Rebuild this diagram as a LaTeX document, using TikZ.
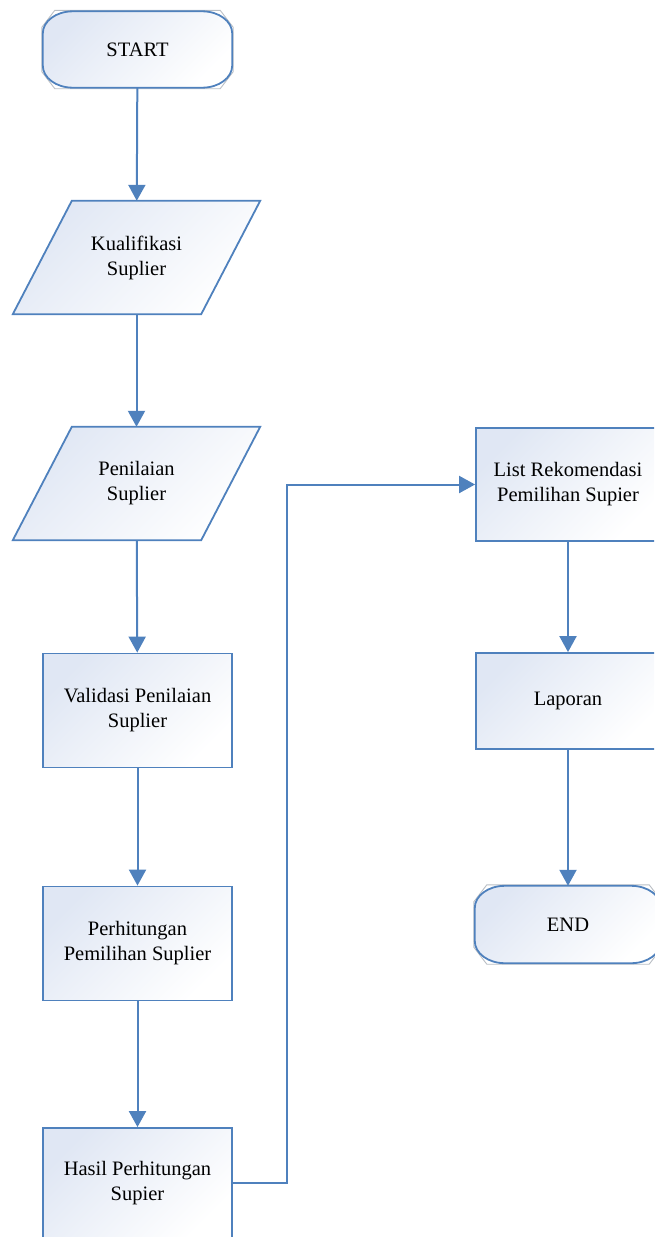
\documentclass[tikz,border=0pt]{standalone}
\usepackage{fontspec}
\setmainfont{Liberation Serif}
\usetikzlibrary{arrows.meta,calc,backgrounds}
\definecolor{lineblue}{RGB}{79,129,189}
\definecolor{fillblue}{RGB}{224,231,244}
\definecolor{edgegray}{RGB}{185,190,196}

\newcommand\myterm[1]{%
  \draw[edgegray, line width=0.9pt]
    ($(#1.north west)+(12,-1)$) -- ($(#1.north east)+(-12,-1)$) --
    ($(#1.north east)+(1,16)$) -- ($(#1.south east)+(1,-16)$) --
    ($(#1.south east)+(-12,1)$) -- ($(#1.south west)+(12,1)$) --
    ($(#1.south west)+(-1,-16)$) -- ($(#1.north west)+(-1,16)$) -- cycle;
  \path[shapefill]
    ($(#1.north west)+(30,0)$) -- ($(#1.north east)+(-30,0)$)
    .. controls ($(#1.north east)+(-13.4,0)$) and ($(#1.north east)+(0,9.9)$) .. ($(#1.north east)+(0,22)$)
    -- ($(#1.south east)+(0,-22)$)
    .. controls ($(#1.south east)+(0,-9.9)$) and ($(#1.south east)+(-13.4,0)$) .. ($(#1.south east)+(-30,0)$)
    -- ($(#1.south west)+(30,0)$)
    .. controls ($(#1.south west)+(13.4,0)$) and ($(#1.south west)+(0,-9.9)$) .. ($(#1.south west)+(0,-22)$)
    -- ($(#1.north west)+(0,22)$)
    .. controls ($(#1.north west)+(0,9.9)$) and ($(#1.north west)+(13.4,0)$) .. ($(#1.north west)+(30,0)$)
    -- cycle;}

\newcommand\mypara[1]{%
  \path[shapefill]
    ($(#1.north west)+(29.5,0)$) -- ($(#1.north east)+(29.5,0)$) --
    ($(#1.south east)+(-29.5,0)$) -- ($(#1.south west)+(-29.5,0)$) -- cycle;}

\begin{document}
\begin{tikzpicture}[x=1pt,y=-1pt,
  txt/.style={align=center, inner sep=0pt, font=\fontsize{20.5}{25}\selectfont},
  shapefill/.style={draw=lineblue, line width=1.8pt, top color=fillblue, bottom color=white, shading angle=45},
  termnode/.style={txt, minimum width=189pt, minimum height=76pt},
  paranode/.style={txt, minimum width=188pt, minimum height=113pt},
  procbox/.style={txt, shapefill, minimum width=189pt, minimum height=114pt},
  conn/.style={draw=lineblue, line width=2pt, -{Triangle[length=16pt,width=17pt]}}
]
\clip (0,0) rectangle (654,1237);

\node[termnode] (start) at (137.5,49.5) {START};
\node[paranode] (kual) at (136.5,257.5) {Kualifikasi\\Suplier};
\node[paranode] (nilai) at (136.5,483.5) {Penilaian\\Suplier};
\node[procbox] (valid) at (137.5,710.5) {Validasi Penilaian\\Suplier};
\node[procbox] (hitung) at (137.5,943.5) {Perhitungan\\Pemilihan Suplier};
\node[procbox, minimum height=110pt] (hasil) at (137.5,1183) {Hasil Perhitungan\\Supier};
\node[procbox, minimum width=184pt, minimum height=113pt] (list) at (568,484.5) {List Rekomendasi\\Pemilihan Supier};
\node[procbox, minimum width=184pt, minimum height=96pt] (lapor) at (568,701) {Laporan};
\node[termnode, minimum width=186pt, minimum height=77pt] (end) at (568,924.5) {END};

\begin{scope}[on background layer]
  \myterm{start}
  \myterm{end}
  \mypara{kual}
  \mypara{nilai}
\end{scope}

\coordinate (bend) at (286.5,484.5);

\draw[conn] (start) -- (kual);
\draw[conn] (kual) -- (nilai);
\draw[conn] (nilai) -- (valid);
\draw[conn] (valid) -- (hitung);
\draw[conn] (hitung) -- (hasil);
\draw[conn] (hasil.east) -| (bend) -- (list.west);
\draw[conn] (list) -- (lapor);
\draw[conn] (lapor) -- (end);
\end{tikzpicture}
\end{document}
